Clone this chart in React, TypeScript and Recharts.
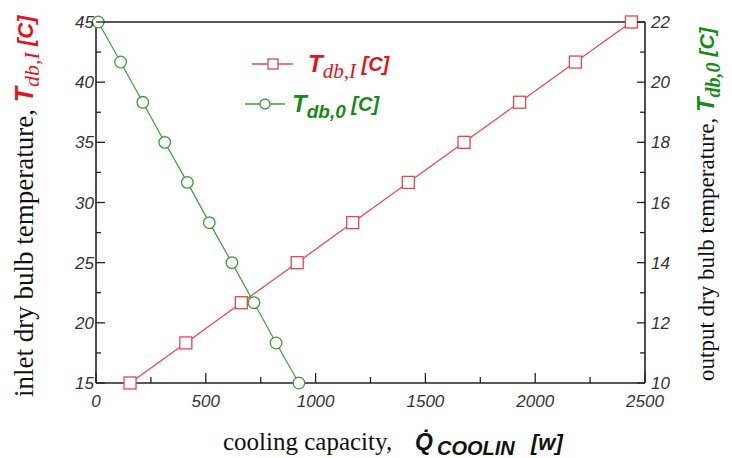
import React from "react";
import { ScatterChart, Scatter, XAxis, YAxis, Legend, Customized } from "recharts";

// cooling capacity [W] and temperatures [C]
const qInlet = [155, 409, 662, 916, 1169, 1422, 1676, 1929, 2183, 2438];
const tInlet = [15, 18.33, 21.67, 25, 28.33, 31.67, 35, 38.33, 41.67, 45];
const qOutlet = [10, 112, 213, 313, 416, 516, 619, 719, 820, 924];
const tOutlet = [22, 20.67, 19.33, 18, 16.67, 15.33, 14, 12.67, 11.33, 10];

const xTicks = [0, 250, 500, 750, 1000, 1250, 1500, 1750, 2000, 2250, 2500];
const xMajor = [0, 500, 1000, 1500, 2000, 2500];
const leftTicks = [15, 17.5, 20, 22.5, 25, 27.5, 30, 32.5, 35, 37.5, 40, 42.5, 45];
const leftMajor = [15, 20, 25, 30, 35, 40, 45];
const rightTicks = [10, 11, 12, 13, 14, 15, 16, 17, 18, 19, 20, 21, 22];
const rightMajor = [10, 12, 14, 16, 18, 20, 22];

const inletData = qInlet.map((q, i) => ({ q, tIn: tInlet[i] }));
const outletData = qOutlet.map((q, i) => ({ q, tOut: tOutlet[i] }));

const RED = "#e3464c";
const GREEN = "#3e9a3e";
const RED_TXT = "#e3141b";
const GREEN_TXT = "#178a17";
const AXIS = "#222";
const SANS = "'Liberation Sans', Arial, sans-serif";
const SERIF = "'Liberation Serif', 'Times New Roman', serif";

const tickText = { fontFamily: SANS, fontStyle: "italic", fontSize: 17, fill: "#333" } as const;

const BottomTick = ({ x, y, payload }: any) => {
  const major = xMajor.includes(payload.value);
  return (
    <g>
      <line x1={x} x2={x} y1={y} y2={y - (major ? 10 : 6)} stroke={AXIS} strokeWidth={1.3} />
      {major && (
        <text x={x} y={y + 24} textAnchor="middle" {...tickText}>
          {payload.value}
        </text>
      )}
    </g>
  );
};

const TopTick = ({ x, y, payload }: any) => {
  const major = xMajor.includes(payload.value);
  return <line x1={x} x2={x} y1={y} y2={y + (major ? 9 : 7)} stroke={AXIS} strokeWidth={1.3} />;
};

const LeftTick = ({ x, y, payload }: any) => {
  const major = leftMajor.includes(payload.value);
  return (
    <g>
      <line x1={x} x2={x + (major ? 9 : 5)} y1={y} y2={y} stroke={AXIS} strokeWidth={1.3} />
      {major && (
        <text x={x - 2} y={y + 6} textAnchor="end" {...tickText}>
          {payload.value}
        </text>
      )}
    </g>
  );
};

const RightTick = ({ x, y, payload }: any) => {
  const major = rightMajor.includes(payload.value);
  return (
    <g>
      <line x1={x} x2={x - (major ? 8 : 5)} y1={y} y2={y} stroke={AXIS} strokeWidth={1.3} />
      {major && (
        <text x={x + 6} y={y + 6} textAnchor="start" {...tickText}>
          {payload.value}
        </text>
      )}
    </g>
  );
};

const SquareDot = ({ cx, cy }: any) => (
  <rect x={cx - 6} y={cy - 6} width={12} height={12} fill="#fff" stroke={RED} strokeWidth={1.3} />
);

const CircleDot = ({ cx, cy }: any) => (
  <circle cx={cx} cy={cy} r={5.8} fill="#fff" stroke={GREEN} strokeWidth={1.3} />
);

const bold = { fontFamily: SANS, fontWeight: "bold", fontStyle: "italic" } as const;

const AxisTitles = () => (
  <g>
    <text transform="rotate(-90 33 397)" x={33} y={397} fontFamily={SERIF} fontSize={27} fill="#111">
      inlet dry bulb temperature,{" "}
      <tspan {...bold} fill={RED_TXT} fontSize={25}>T</tspan>
      <tspan fontFamily={SERIF} fontStyle="italic" fill={RED_TXT} fontSize={22} dy={6}>db,I</tspan>
      <tspan {...bold} fill={RED_TXT} fontSize={22} dy={-6}> [C]</tspan>
    </text>
    <text transform="rotate(-90 714 381)" x={714} y={381} fontFamily={SERIF} fontSize={23} fill="#111">
      output dry bulb temperature,{" "}
      <tspan {...bold} fill={GREEN_TXT} fontSize={24}>T</tspan>
      <tspan fontFamily={SERIF} fontStyle="italic" fontWeight="bold" fill={GREEN_TXT} fontSize={20} dy={6}>db,0</tspan>
      <tspan {...bold} fill={GREEN_TXT} fontSize={21} dy={-6}> [C]</tspan>
    </text>
    <text x={223} y={450} fontFamily={SERIF} fontSize={25} fill="#111">
      cooling capacity,
      <tspan {...bold} x={415} fill="#111" fontSize={23}>{"Q\u0307"}</tspan>
      <tspan {...bold} x={437} fill="#111" fontSize={20} dy={5}>COOLIN</tspan>
      <tspan {...bold} x={531} fill="#111" fontSize={22} dy={-5}>[w]</tspan>
    </text>
  </g>
);

const LegendBox = () => (
  <svg width={200} height={90} style={{ display: "block" }}>
    <g transform="translate(-230 -40)">
      <line x1={252} x2={293} y1={64} y2={64} stroke={RED} strokeWidth={1.3} />
      <rect x={268} y={59} width={10} height={10} fill="#fff" stroke={RED} strokeWidth={1.3} />
      <text x={308} y={72} fill={RED_TXT}>
        <tspan {...bold} fontSize={24}>T</tspan>
        <tspan fontFamily={SERIF} fontStyle="italic" fontSize={21} dy={6}>db,I</tspan>
        <tspan {...bold} fontSize={20} dy={-7}> [C]</tspan>
      </text>
      <line x1={245} x2={285} y1={104} y2={104} stroke={GREEN} strokeWidth={1.3} />
      <circle cx={265} cy={104} r={5} fill="#fff" stroke={GREEN} strokeWidth={1.3} />
      <text x={292} y={112} fill={GREEN_TXT}>
        <tspan {...bold} fontSize={24}>T</tspan>
        <tspan {...bold} fontSize={19} dy={6}>db,0</tspan>
        <tspan {...bold} fontSize={20} dy={-7}> [C]</tspan>
      </text>
    </g>
  </svg>
);

export default function App() {
  return (
    <div style={{ position: "absolute", left: 0, top: 0, background: "#fff" }}>
      <ScatterChart width={732} height={458} margin={{ top: 0, right: 0, bottom: 0, left: 0 }}>
        <XAxis
          xAxisId="bottom"
          dataKey="q"
          type="number"
          domain={[0, 2500]}
          ticks={xTicks}
          interval={0}
          height={75}
          tickSize={0}
          tickMargin={0}
          tickLine={false}
          tick={<BottomTick />}
          axisLine={{ stroke: AXIS, strokeWidth: 1.6 }}
        />
        <XAxis
          xAxisId="top"
          orientation="top"
          dataKey="q"
          type="number"
          domain={[0, 2500]}
          ticks={xTicks}
          interval={0}
          height={22}
          tickSize={0}
          tickMargin={0}
          tickLine={false}
          tick={<TopTick />}
          axisLine={{ stroke: AXIS, strokeWidth: 1.6 }}
        />
        <YAxis
          yAxisId="left"
          dataKey="tIn"
          type="number"
          domain={[15, 45]}
          ticks={leftTicks}
          interval={0}
          width={96}
          tickSize={0}
          tickMargin={0}
          tickLine={false}
          tick={<LeftTick />}
          axisLine={{ stroke: AXIS, strokeWidth: 1.6 }}
        />
        <YAxis
          yAxisId="right"
          orientation="right"
          dataKey="tOut"
          type="number"
          domain={[10, 22]}
          ticks={rightTicks}
          interval={0}
          width={87}
          tickSize={0}
          tickMargin={0}
          tickLine={false}
          tick={<RightTick />}
          axisLine={{ stroke: AXIS, strokeWidth: 1.6 }}
        />
        <Scatter
          name="Tdb,I [C]"
          data={inletData}
          xAxisId="bottom"
          yAxisId="left"
          line={{ stroke: RED, strokeWidth: 1.2 }}
          lineType="joint"
          shape={<SquareDot />}
          fill={RED}
          isAnimationActive={false}
        />
        <Scatter
          name="Tdb,0 [C]"
          data={outletData}
          xAxisId="bottom"
          yAxisId="right"
          line={{ stroke: GREEN, strokeWidth: 1.2 }}
          lineType="joint"
          shape={<CircleDot />}
          fill={GREEN}
          isAnimationActive={false}
        />
        <Legend
          layout="horizontal"
          verticalAlign="middle"
          align="center"
          content={<LegendBox />}
          wrapperStyle={{ position: "absolute", left: 230, top: 40, width: 200, height: 90 }}
        />
        <Customized component={AxisTitles} />
      </ScatterChart>
    </div>
  );
}
